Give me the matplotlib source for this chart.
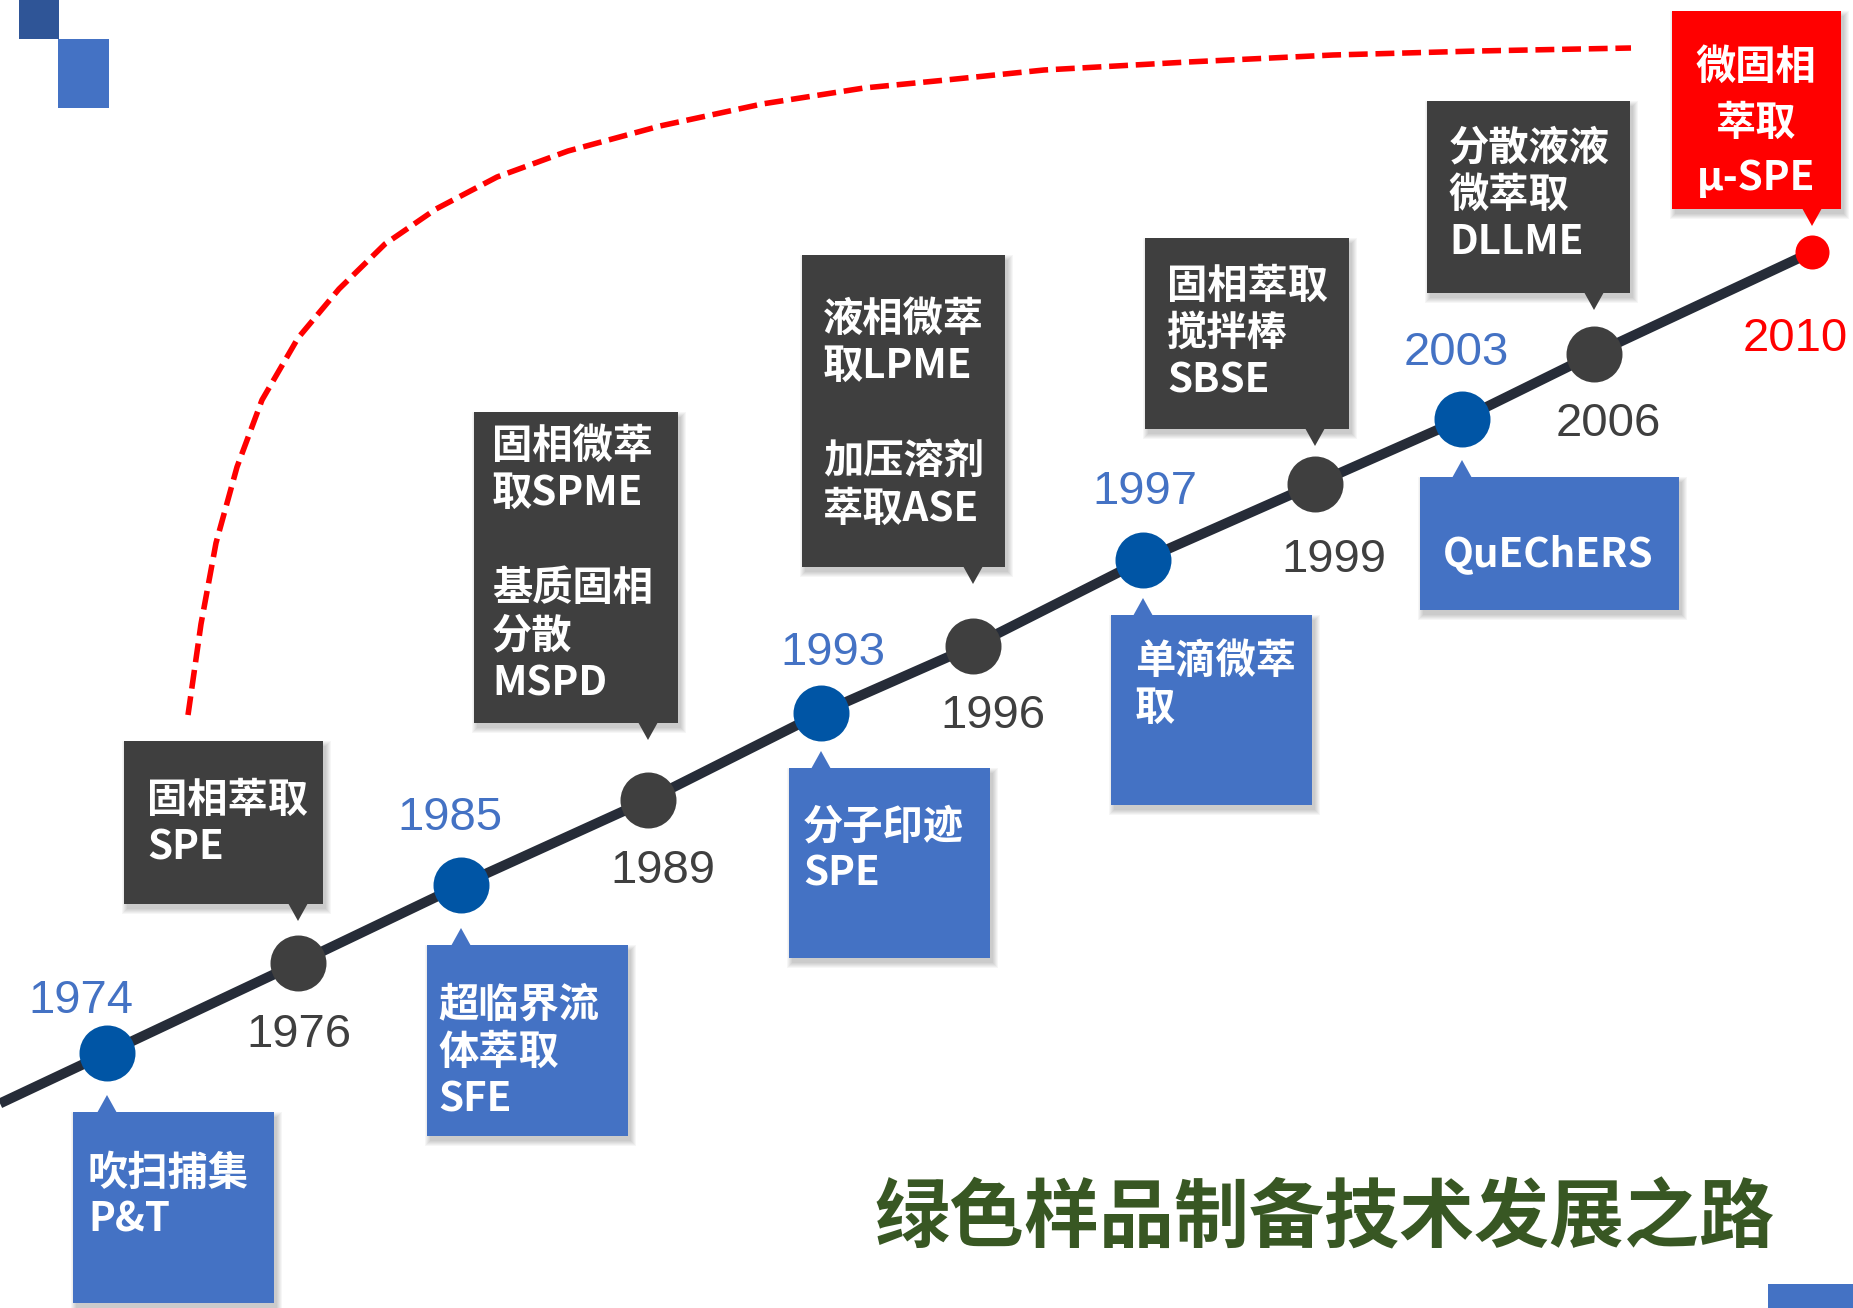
import matplotlib
matplotlib.use('Agg')
from matplotlib import pyplot as plt
from matplotlib.patches import Rectangle, Polygon

# ---- content ----
years = ['1974', '1976', '1985', '1989', '1993', '1996', '1997', '1999', '2003', '2006', '2010']
kinds = ['blue', 'dark', 'blue', 'dark', 'blue', 'dark', 'blue', 'dark', 'blue', 'dark', 'red']
methods = [
    ['吹扫捕集', 'P&T'],
    ['固相萃取', 'SPE'],
    ['超临界流', '体萃取', 'SFE'],
    ['固相微萃', '取SPME', '', '基质固相', '分散', 'MSPD'],
    ['分子印迹', 'SPE'],
    ['液相微萃', '取LPME', '', '加压溶剂', '萃取ASE'],
    ['单滴微萃', '取'],
    ['固相萃取', '搅拌棒', 'SBSE'],
    ['QuEChERS'],
    ['分散液液', '微萃取', 'DLLME'],
    ['微固相', '萃取', 'μ-SPE'],
]
title = '绿色样品制备技术发展之路'

# ---- layout (pixel units, y downwards) ----
node_x = [107, 298, 461, 648, 821, 973, 1143, 1315, 1462, 1594, 1812]
node_y = [1053, 963, 885, 800, 713, 646, 560, 484, 419, 354, 252]
label_x = [81, 299, 450, 663, 833, 993, 1145, 1334, 1456, 1608, 1795]
label_y = [1001, 1035, 818, 871, 653, 716, 492, 560, 353, 424, 339]

box_l = [73, 124, 427, 474, 789, 802, 1111, 1145, 1420, 1427, 1672]
box_t = [1112, 741, 945, 412, 768, 255, 615, 238, 477, 101, 11]
box_r = [274, 323, 628, 678, 990, 1005, 1312, 1349, 1679, 1630, 1841]
box_b = [1303, 904, 1136, 723, 958, 567, 805, 429, 610, 293, 209]
text_x0 = [88, 147, 438, 492, 803, 823, 1135, 1167, 1443, 1449, 1756]
text_y0 = [1173, 800, 1005, 446, 827, 319, 661, 286, 555, 148, 67]

# red dashed trend curve
curve_x = [188, 201, 216, 237, 262, 298, 339, 385, 436, 497, 568, 660, 762, 864,
           946, 1044, 1188, 1333, 1477, 1631]
curve_y = [715, 624, 543, 467, 400, 338, 289, 244, 209, 177, 151, 126, 104, 88,
           80, 70, 62, 55, 51, 48]

box_color = {'blue': '#4472C4', 'dark': '#3F3F3F', 'red': '#FF0000'}
dot_color = {'blue': '#0055A5', 'dark': '#3F3F3F', 'red': '#FF0000'}
year_color = {'blue': '#4472C4', 'dark': '#3F3F3F', 'red': '#FF0000'}
cjk = ['Noto Sans CJK SC', 'DejaVu Sans']

W, H = 1853, 1308
fig = plt.figure(figsize=(W / 100, H / 100), dpi=100)
ax = fig.add_axes([0, 0, 1, 1])
ax.set_xlim(0, W)
ax.set_ylim(H, 0)
ax.axis('off')

# corner squares
ax.add_patch(Rectangle((19, 0), 40, 39, color='#2F5597', lw=0))
ax.add_patch(Rectangle((58, 39), 51, 69, color='#4472C4', lw=0))
ax.add_patch(Rectangle((1768, 1284), 85, 24, color='#4472C4', lw=0))

# trend curve
ax.plot(curve_x, curve_y, color='#FF0000', lw=4.0, ls=(0, (3.4, 1.4)), zorder=1)

# timeline: extend the first segment to the left edge
slope = (node_y[1] - node_y[0]) / (node_x[1] - node_x[0])
line_x = [0] + node_x
line_y = [node_y[0] - slope * node_x[0]] + node_y
ax.plot(line_x, line_y, color='#262C38', lw=7.2, solid_capstyle='butt', zorder=2)

for i, kind in enumerate(kinds):
    size = 600 if kind == 'red' else 1625
    ax.scatter(node_x[i], node_y[i], s=size, color=dot_color[kind], lw=0, zorder=3)
    ax.text(label_x[i], label_y[i], years[i], color=year_color[kind],
            fontsize=34, family='Liberation Sans', ha='center', va='center', zorder=4)

    l, t, r, b = box_l[i], box_t[i], box_r[i], box_b[i]
    # soft drop shadow
    for k in range(6):
        ax.add_patch(Rectangle((l + 3 - k, t + 5 - k), r - l + 2 * k, b - t + 2 * k,
                               color='black', alpha=0.035, lw=0, zorder=4))
    ax.add_patch(Rectangle((l, t), r - l, b - t, color=box_color[kind], lw=0, zorder=5))
    px = node_x[i]
    if kind == 'blue':
        tri = [(px - 10, t + 1), (px + 10, t + 1), (px, t - 17)]
    else:
        tri = [(px - 10, b - 1), (px + 10, b - 1), (px, b + 17)]
    ax.add_patch(Polygon(tri, closed=True, color=box_color[kind], lw=0, zorder=5))

    step = 56 if kind == 'red' else 47.5
    ha = 'center' if kind == 'red' else 'left'
    for j, line in enumerate(methods[i]):
        if not line:
            continue
        ax.text(text_x0[i], text_y0[i] + j * step, line, color='white', fontsize=29,
                family=cjk, fontweight='bold', ha=ha, va='center', zorder=6)

ax.text(1324, 1219, title, color='#385723', fontsize=54, family=cjk,
        fontweight='heavy', ha='center', va='center')

fig.savefig('out.png', dpi=100)
